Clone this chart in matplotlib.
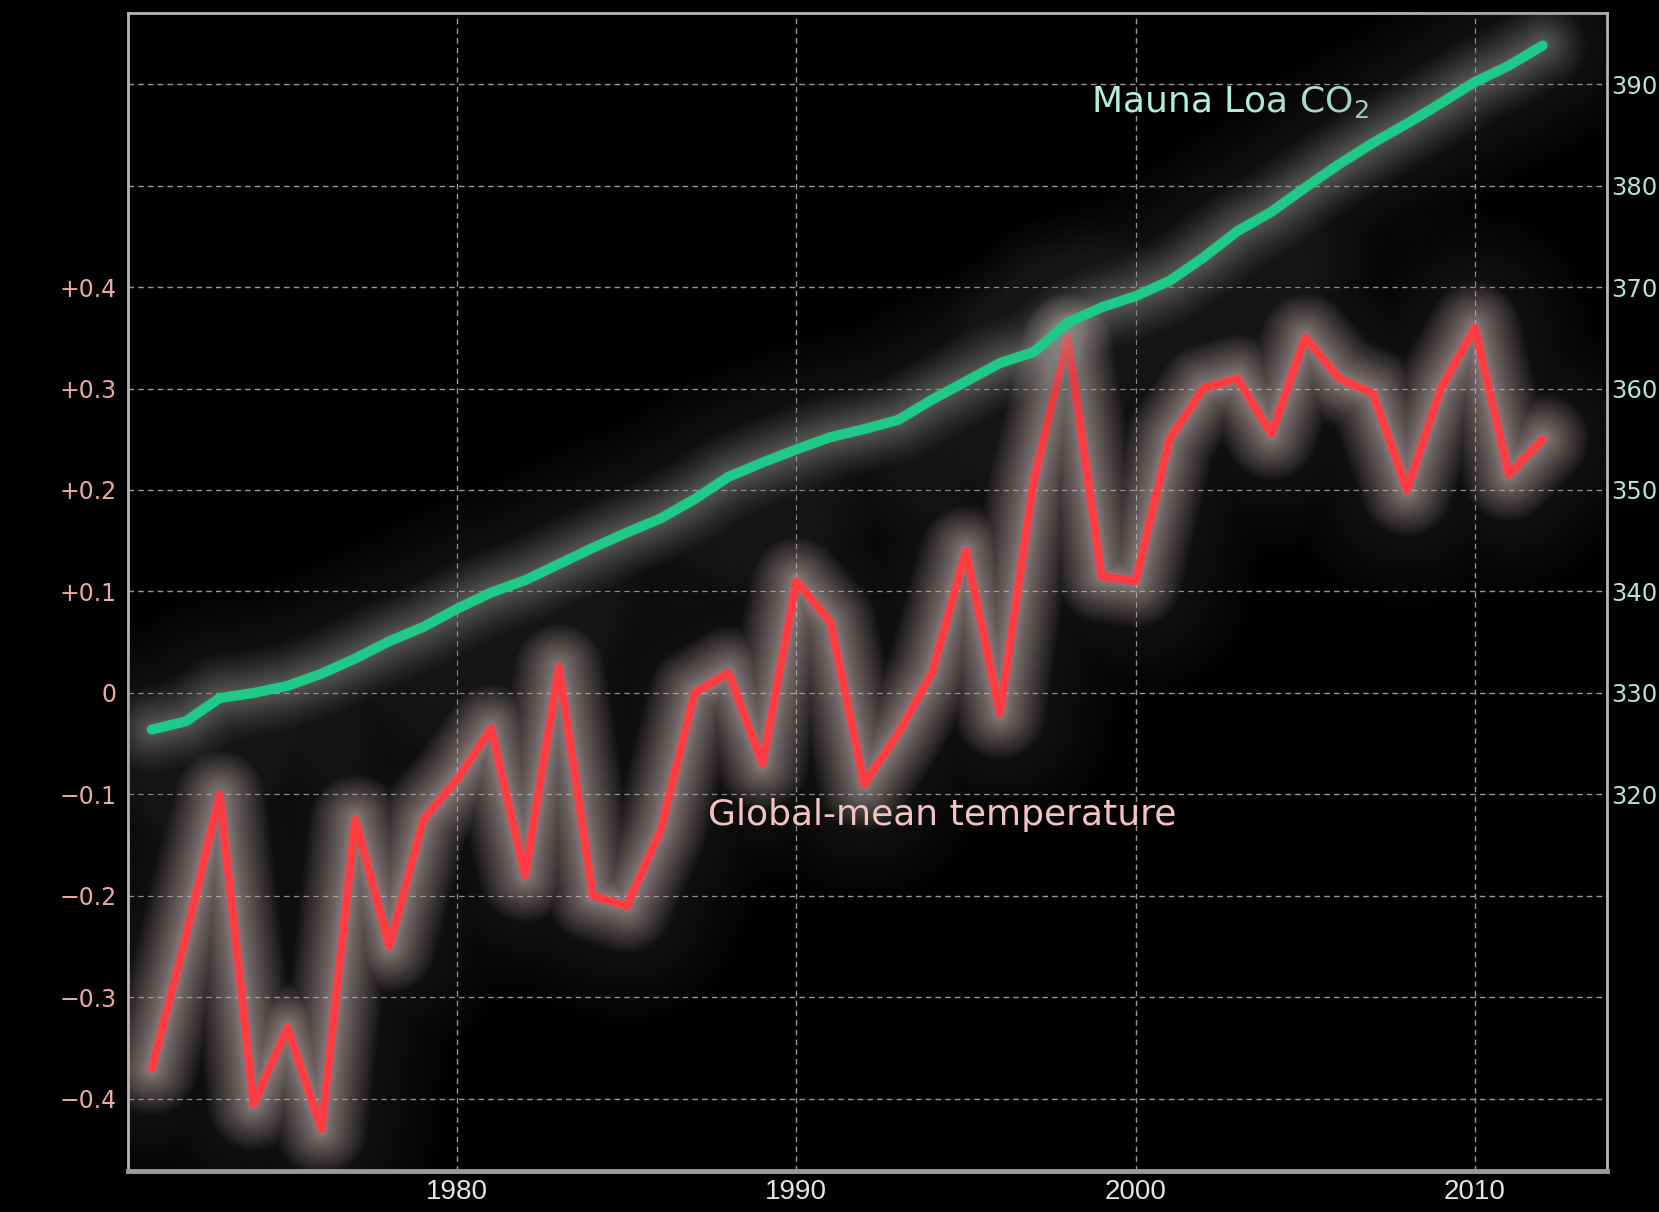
import matplotlib
matplotlib.use("Agg")
import matplotlib.pyplot as plt

# data
years = list(range(1971, 2013))
temp_anom = [-0.37, -0.24, -0.10, -0.405, -0.33, -0.43, -0.125, -0.25, -0.125, -0.085,
             -0.035, -0.18, 0.025, -0.20, -0.21, -0.135, 0.0, 0.02, -0.07, 0.11,
             0.07, -0.09, -0.04, 0.02, 0.14, -0.02, 0.21, 0.35, 0.115, 0.11,
             0.25, 0.30, 0.31, 0.255, 0.35, 0.31, 0.295, 0.20, 0.30, 0.36,
             0.215, 0.25]
co2_ppm = [326.4, 327.2, 329.5, 330.0, 330.7, 331.9, 333.4, 335.1, 336.5, 338.3,
           339.9, 341.1, 342.7, 344.3, 345.8, 347.2, 349.1, 351.3, 352.7, 354.0,
           355.2, 356.0, 356.9, 358.9, 360.7, 362.5, 363.6, 366.5, 368.0, 369.1,
           370.6, 372.9, 375.5, 377.4, 379.8, 382.1, 384.2, 386.1, 388.1, 390.2,
           391.8, 393.8]
temp_ticks = [-0.4, -0.3, -0.2, -0.1, 0.0, 0.1, 0.2, 0.3, 0.4, 0.5, 0.6]
temp_labels = ['\u22120.4', '\u22120.3', '\u22120.2', '\u22120.1', '0',
               '+0.1', '+0.2', '+0.3', '+0.4', '', '']
co2_ticks = [320, 330, 340, 350, 360, 370, 380, 390]
year_ticks = [1980, 1990, 2000, 2010]

RED = '#ff3c42'
GREEN = '#1fc98a'

plt.rcParams['mathtext.default'] = 'regular'


def glow_line(ax, x, y, color, glow_color, lw, spread, alpha, n=24,
              haze_color='#6a6a6a', haze_spread=0, haze_alpha=0.0):
    # wide faint haze first, then a tighter bright halo, then the line
    for i in range(n, 0, -1):
        if haze_spread:
            ax.plot(x, y, color=haze_color, lw=lw + haze_spread * i / n, alpha=haze_alpha,
                    solid_capstyle='round', solid_joinstyle='round')
    for i in range(n, 0, -1):
        ax.plot(x, y, color=glow_color, lw=lw + spread * (i / n) ** 1.6, alpha=alpha,
                solid_capstyle='round', solid_joinstyle='round')
    ax.plot(x, y, color=color, lw=lw, solid_capstyle='round', solid_joinstyle='round')


fig = plt.figure(figsize=(16.59, 12.12), dpi=100, facecolor='black')
ax = fig.add_axes([0.0772, 0.0338, 0.8915, 0.9555])
ax.set_facecolor('black')

ax.set_xlim(1970.3, 2013.9)
ax.set_ylim(-0.471, 0.67)
ax.set_xticks(year_ticks)
ax.set_yticks(temp_ticks)
ax.set_yticklabels(temp_labels)
ax.grid(True, color='#9a9a9a', linestyle=(0, (4, 3)), linewidth=1.0)
ax.tick_params(axis='both', length=0)
ax.tick_params(axis='y', colors='#e9aaa2', labelsize=17, pad=8)
ax.tick_params(axis='x', colors='#e6e6e6', labelsize=20, pad=6)
for s in ax.spines.values():
    s.set_color('#b5b5b5')
    s.set_linewidth(2)
ax.spines['bottom'].set_linewidth(3.5)
ax.spines['bottom'].set_color('#9a9a9a')

ax2 = ax.twinx()
ax2.set_ylim(330 + 100 * -0.471, 330 + 100 * 0.67)
ax2.set_yticks(co2_ticks)
ax2.tick_params(axis='y', length=0, colors='#b2e6cf', labelsize=17.5, pad=3)
ax2.patch.set_visible(False)
for s in ax2.spines.values():
    s.set_visible(False)

for lab in ax.get_yticklabels() + ax2.get_yticklabels():
    lab.set_family('DejaVu Sans')
for lab in ax.get_xticklabels():
    lab.set_family(['Liberation Sans', 'DejaVu Sans'])

glow_line(ax, years, temp_anom, RED, '#ffe4e4', 5.8, 60, 0.03,
          haze_spread=170, haze_alpha=0.011)
glow_line(ax2, years, co2_ppm, GREEN, '#dcdcdc', 7.2, 55, 0.02,
          haze_spread=150, haze_alpha=0.010)

ax.text(1998.7, 0.572, 'Mauna Loa CO$_2$', color='#b4f0d8', fontsize=26,
        family='DejaVu Sans', va='baseline', ha='left')
ax.text(1987.4, -0.130, 'Global-mean temperature', color='#f4c2c2', fontsize=26,
        family='DejaVu Sans', va='baseline', ha='left')

fig.savefig('out.png', dpi=100, facecolor='black')
